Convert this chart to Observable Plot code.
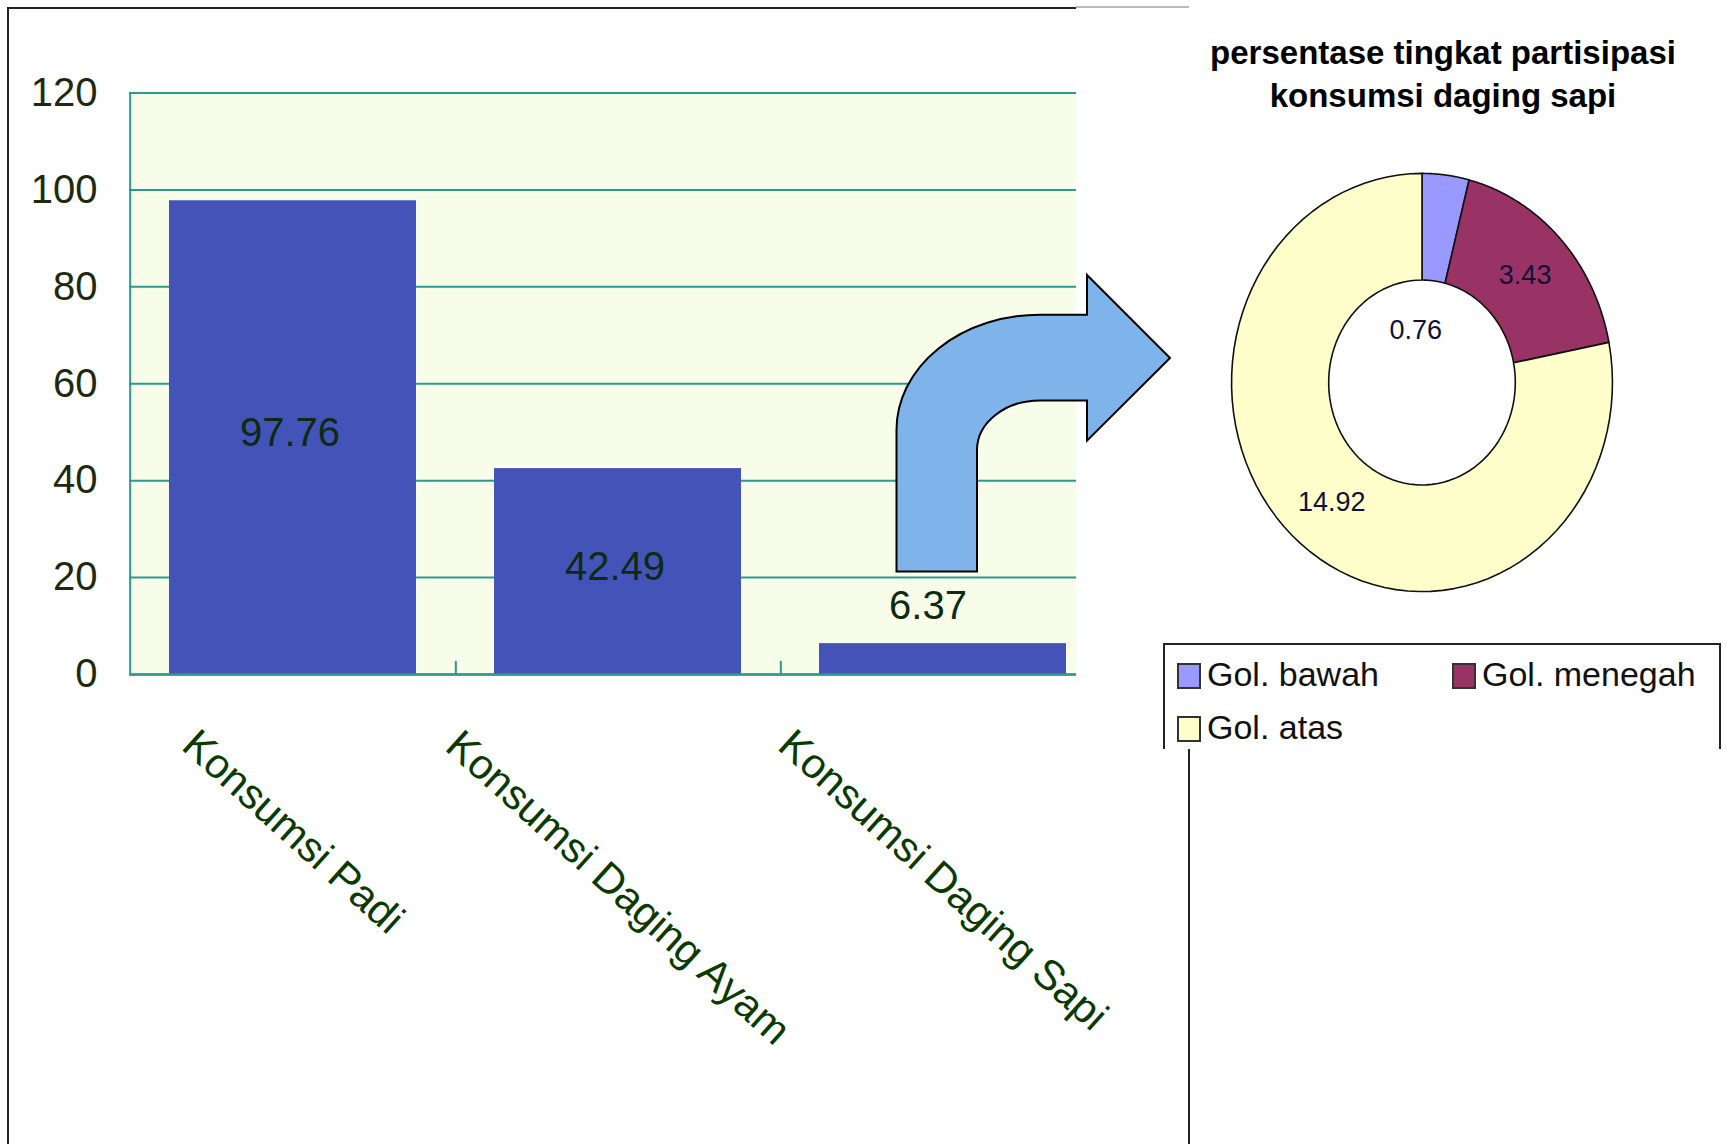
<!DOCTYPE html>
<html>
<head>
<meta charset="utf-8">
<script src="https://cdn.jsdelivr.net/npm/d3@7"></script>
<script src="https://cdn.jsdelivr.net/npm/@observablehq/plot@0.6"></script>
<style>
  html, body { margin: 0; padding: 0; background: #fff; }
  #stage { position: relative; width: 1727px; height: 1144px; overflow: hidden; background: #fff; font-family: "Liberation Sans", Arial, sans-serif; }
  .abs { position: absolute; }
  #title { left: 1163px; width: 560px; top: 31px; text-align: center; font-weight: bold; font-size: 33px; line-height: 43px; color: #000; }
  #legend { left: 1163px; top: 643px; width: 558px; height: 106px; border: 2px solid #222; border-bottom: none; box-sizing: border-box; }
  .item { position: absolute; font-size: 34px; color: #111; line-height: 34px; white-space: nowrap; }
  .sw { display: inline-block; width: 20px; height: 22px; border: 2px solid #333; vertical-align: -3px; margin-right: 6px; }
</style>
</head>
<body>
<div id="stage"></div>
<script>
// ---- data ----
const categories = ["Konsumsi Padi", "Konsumsi Daging Ayam", "Konsumsi Daging Sapi"];
const values = [97.76, 42.49, 6.37];
const yTicks = [0, 20, 40, 60, 80, 100, 120];
const pieLabels = ["Gol. bawah", "Gol. menegah", "Gol. atas"];
const pieValues = [0.76, 3.43, 14.92];
const pieColors = ["#9999ff", "#993366", "#ffffcc"];
const pieTitle = ["persentase tingkat partisipasi", "konsumsi daging sapi"];

const stage = document.getElementById("stage");
const FONT = "'Liberation Sans', Arial, sans-serif";
const teal = "#2b9a8f";
const data = categories.map((c, i) => ({cat: c, value: values[i]}));

// ---- bar chart ----
const W = 1114, H = 1144, mL = 129, mR = 8, mT = 92.5, mB = 1144 - 674;
const pIn = 0.24, pOut = 0.12;
const step = (W - mL - mR) / (categories.length - pIn + 2 * pOut);
const canvas = document.createElement("canvas");
const ctx = canvas.getContext("2d");
const catFont = 42, rot = 42, rad = rot * Math.PI / 180;
ctx.font = `${catFont}px ${FONT}`;
const catMarks = categories.map(c => {
  const L = ctx.measureText(c).width;
  const dy = 52 + (L * Math.sin(rad) + 0.75 * catFont * Math.cos(rad)) / 2;
  return Plot.text([c], {x: d => d, frameAnchor: "bottom", text: d => d, rotate: rot, textAnchor: "middle",
    lineAnchor: "middle", dy, fontSize: catFont, fill: "#0b3a00"});
});

const bar = Plot.plot({
  width: W, height: H, marginLeft: mL, marginRight: mR, marginTop: mT, marginBottom: mB,
  x: {domain: categories, paddingInner: pIn, paddingOuter: pOut, axis: null, label: null},
  y: {domain: [0, 120], axis: null, label: null},
  style: {fontFamily: FONT, background: "transparent", overflow: "visible"},
  marks: [
    Plot.frame({fill: "#f8fdea", stroke: null}),
    Plot.ruleY(yTicks, {stroke: teal, strokeWidth: 2}),
    Plot.barY(data, {x: "cat", y: "value", fill: "#4453b8"}),
    Plot.ruleY([0], {stroke: teal, strokeWidth: 2.5}),
    Plot.ruleX([categories[0]], {x: d => d, dx: -step / 2, stroke: teal, strokeWidth: 2}),
    Plot.ruleX(categories.slice(0, -1), {x: d => d, dx: step / 2, y1: 0, y2: 2.7, stroke: teal, strokeWidth: 2}),
    Plot.axisY({ticks: yTicks, tickSize: 0, tickPadding: 32, fontSize: 40, fill: "#1c2a10", anchor: "left", label: null, tickFormat: d => String(d)}),
    Plot.text(data.filter(d => d.value >= 20), {x: "cat", y: d => d.value / 2, text: d => d.value.toFixed(2), dy: -4, dx: -3, fontSize: 40, fill: "#0f2a10"}),
    Plot.text(data.filter(d => d.value < 20), {x: "cat", y: "value", text: d => d.value.toFixed(2), dy: -37, dx: -15, fontSize: 40, fill: "#0f2a10"}),
    ...catMarks
  ]
});
bar.classList.add("abs");
bar.style.left = "0px"; bar.style.top = "0px"; bar.style.maxWidth = "none";
stage.appendChild(bar);

// cover for pasted pie region
const cover = document.createElement("div");
cover.className = "abs";
Object.assign(cover.style, {left: "1076px", top: "0px", width: "651px", height: "747px", background: "#fff"});
stage.appendChild(cover);

// frame lines
function line(l, t, w, h, c) {
  const d = document.createElement("div");
  d.className = "abs";
  Object.assign(d.style, {left: l + "px", top: t + "px", width: w + "px", height: h + "px", background: c});
  stage.appendChild(d);
}
line(7, 7, 1069, 2, "#222");
line(7, 7, 2, 1137, "#222");
line(1076, 6, 113, 1.5, "#bbb");
line(1188, 749, 2, 395, "#222");

// arrow
const svgNS = "http://www.w3.org/2000/svg";
const arrow = document.createElementNS(svgNS, "svg");
arrow.setAttribute("width", 1727); arrow.setAttribute("height", 1144);
arrow.setAttribute("class", "abs");
arrow.style.left = "0px"; arrow.style.top = "0px";
const p = document.createElementNS(svgNS, "path");
p.setAttribute("d", "M896.5 571.6 L896.5 430 A143.5 115.3 0 0 1 1040 314.7 L1087 314.7 L1087 275 L1170 358 L1087 440.6 L1087 400.4 L1040 400.4 A63 49.6 0 0 0 977 450 L977 571.6 Z");
p.setAttribute("fill", "#7eb4ea"); p.setAttribute("stroke", "#000"); p.setAttribute("stroke-width", "2");
arrow.appendChild(p);
stage.appendChild(arrow);

// ---- donut ----
const arcs = d3.pie().sort(null)(pieValues);
const r0 = 0.49, N = 80;
const pts = [];
arcs.forEach((a, i) => {
  for (let k = 0; k <= N; k++) {
    const t = a.startAngle + (a.endAngle - a.startAngle) * k / N;
    pts.push({name: pieLabels[i], x: Math.sin(t), y: Math.cos(t)});
  }
  for (let k = N; k >= 0; k--) {
    const t = a.startAngle + (a.endAngle - a.startAngle) * k / N;
    pts.push({name: pieLabels[i], x: r0 * Math.sin(t), y: r0 * Math.cos(t)});
  }
});
const rc = (1 + r0) / 2;
const mid = a => (a.startAngle + a.endAngle) / 2;
const pie = Plot.plot({
  width: 419, height: 460, margin: 0,
  x: {domain: [-1.1, 1.1], axis: null},
  y: {domain: [-1.1, 1.1], axis: null},
  color: {domain: pieLabels, range: pieColors},
  style: {fontFamily: FONT, background: "transparent", overflow: "visible"},
  marks: [
    Plot.line(pts, {x: "x", y: "y", z: "name", fill: "name", stroke: "#111", strokeWidth: 1.6, curve: "linear-closed"}),
    Plot.text(arcs.slice(1), {x: a => rc * Math.sin(mid(a)), y: a => rc * Math.cos(mid(a)), text: a => a.data.toFixed(2), fontSize: 27, fill: "#10103a"}),
    Plot.text(arcs.slice(0, 1), {x: a => rc * Math.sin(mid(a)), y: a => rc * Math.cos(mid(a)), text: a => a.data.toFixed(2), dx: -24, dy: 102, fontSize: 27, fill: "#10103a"})
  ]
});
pie.classList.add("abs");
pie.style.left = "1211.5px"; pie.style.top = "152px"; pie.style.maxWidth = "none";
stage.appendChild(pie);

// title
const title = document.createElement("div");
title.id = "title"; title.className = "abs";
title.innerHTML = pieTitle.join("<br>");
stage.appendChild(title);

// legend
const legend = document.createElement("div");
legend.id = "legend"; legend.className = "abs";
const legPos = [[12, 12], [287, 12], [12, 65]];
pieLabels.forEach((n, i) => {
  const it = document.createElement("div");
  it.className = "item";
  it.style.left = legPos[i][0] + "px"; it.style.top = legPos[i][1] + "px";
  it.innerHTML = `<span class="sw" style="background:${pieColors[i]}"></span>${n}`;
  legend.appendChild(it);
});
stage.appendChild(legend);
</script>
</body>
</html>
